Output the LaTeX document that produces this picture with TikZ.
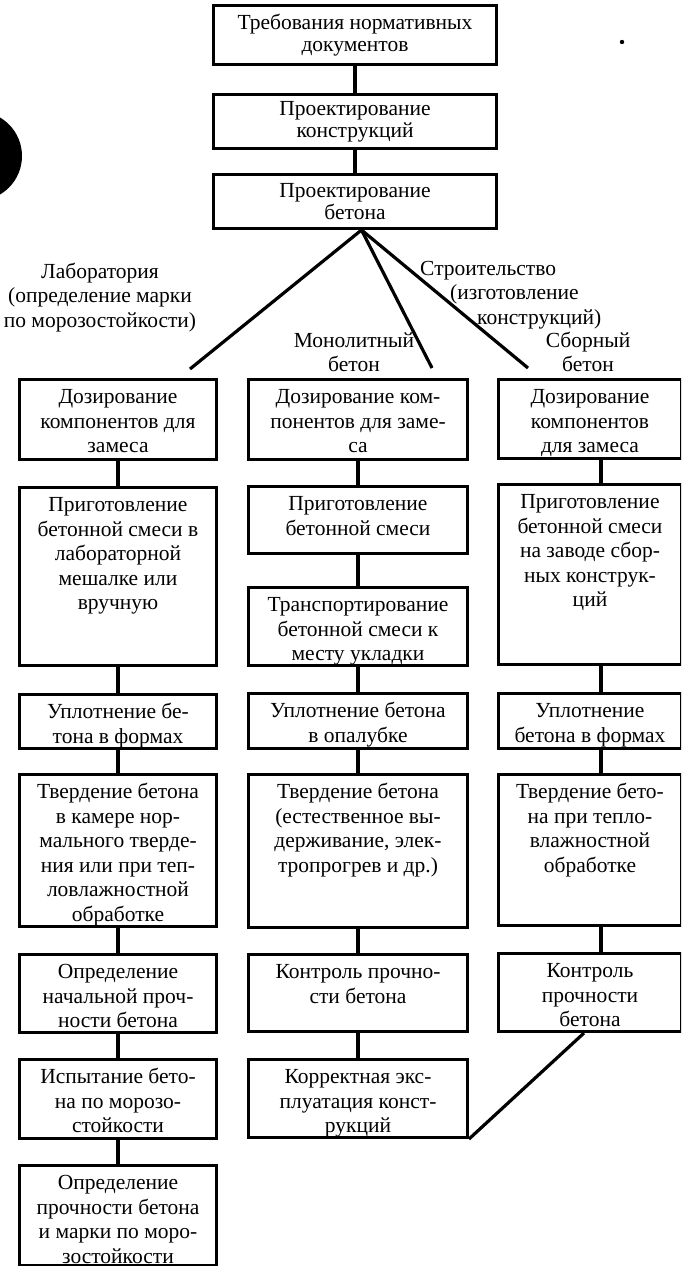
\documentclass[tikz,border=0pt]{standalone}
\usepackage{fontspec}
\setmainfont{Liberation Serif}
\newcommand\flowbox[6]{%
  \pgfmathsetmacro\fbw{#4-#2}%
  \pgfmathsetmacro\fbh{#5-#3}%
  \pgfmathsetmacro\fbwi{#4-#2-8}%
  \pgfmathsetmacro\fbhi{#5-#3-14}%
  \node[box, minimum width=\fbw pt, minimum height=\fbh pt] (#1) at (#2,#3)
    {\parbox[c][\fbhi pt][t]{\fbwi pt}{\centering\strut #6}};}
\begin{document}
\begin{tikzpicture}[x=1pt,y=-1pt,
  every node/.style={font=\fontsize{21.5}{24.5}\selectfont},
  box/.style={draw, line width=3pt, rectangle, inner sep=0pt, anchor=north west},
  topbox/.style={box, minimum width=283pt, minimum height=56pt, align=center,
     font=\fontsize{21.5}{22}\selectfont},
  conn/.style={line width=3.2pt},
  lbl/.style={inner sep=0pt, align=center, anchor=north}]
\useasboundingbox (0,0) rectangle (681,1266);
\clip (0,0) rectangle (681,1266);
% scan marks
\fill (-22.7,156) circle[radius=44.7pt];
\fill (622,42) circle[radius=2.2pt];
% top chain
\node[topbox, minimum height=59pt] (b1) at (212,4) {Требования нормативных\\документов};
\node[topbox, minimum height=54pt] (b2) at (212,93) {Проектирование\\конструкций};
\node[topbox, minimum height=54pt] (b3) at (212,173) {Проектирование\\бетона};
\draw[conn] (b1) -- (b2);
\draw[conn] (b2) -- (b3);
% branch labels
\node[lbl] (lab) at (100,261) {\strut Лаборатория\\(определение марки\\по морозостойкости)};
\node[lbl, anchor=north west, align=left] (stroi) at (420,258)
  {\strut Строительство\\\hspace*{30pt}(изготовление\\\hspace*{57pt}конструкций)};
\node[lbl] (mono) at (354,330) {\strut Монолитный\\бетон};
\node[lbl] (sbor) at (588,330) {\strut Сборный\\бетон};
\coordinate (eL) at (190,369);
\coordinate (eM) at (432,368);
\coordinate (eR) at (528,368);
\draw[conn] ([xshift=6.5pt]b3.south) -- (eL);
\draw[conn] ([xshift=6.5pt]b3.south) -- (eM);
\draw[conn] ([xshift=6.5pt]b3.south) -- (eR);
% left column
\flowbox{L1}{18}{378}{215}{458}{Дозирование\\компонентов для\\замеса}
\flowbox{L2}{18}{486}{215}{664}{Приготовление\\бетонной смеси в\\лабораторной\\мешалке или\\вручную}
\flowbox{L3}{18}{693}{215}{747}{Уплотнение бе-\\тона в формах}
\flowbox{L4}{18}{773}{215}{925}{Твердение бетона\\в камере нор-\\мального тверде-\\ния или при теп-\\ловлажностной\\обработке}
\flowbox{L5}{18}{953}{215}{1031}{Определение\\начальной проч-\\ности бетона}
\flowbox{L6}{18}{1058}{215}{1137}{Испытание бето-\\на по морозо-\\стойкости}
\flowbox{L7}{18}{1164}{215}{1264}{Определение\\прочности бетона\\и марки по моро-\\зостойкости}
\foreach \a/\b in {L1/L2,L2/L3,L3/L4,L4/L5,L5/L6,L6/L7}
  \draw[conn] (\a) -- (\b);
% middle column
\flowbox{M1}{247}{378}{466}{458}{Дозирование ком-\\понентов для заме-\\са}
\flowbox{M2}{247}{485}{466}{552}{Приготовление\\бетонной смеси}
\flowbox{M3}{247}{586}{466}{664}{Транспортирование\\бетонной смеси к\\месту укладки}
\flowbox{M4}{247}{692}{466}{747}{Уплотнение бетона\\в опалубке}
\flowbox{M5}{247}{773}{466}{926}{Твердение бетона\\(естественное вы-\\держивание, элек-\\тропрогрев и др.)}
\flowbox{M6}{247}{953}{466}{1030}{Контроль прочно-\\сти бетона}
\flowbox{M7}{247}{1058}{466}{1136}{Корректная экс-\\плуатация конст-\\рукций}
\foreach \a/\b in {M1/M2,M2/M3,M3/M4,M4/M5,M5/M6,M6/M7}
  \draw[conn] (\a) -- (\b);
% right column
\flowbox{R1}{497}{378}{680}{457}{Дозирование\\компонентов\\для замеса}
\flowbox{R2}{497}{483}{680}{663}{Приготовление\\бетонной смеси\\на заводе сбор-\\ных конструк-\\ций}
\flowbox{R3}{497}{692}{680}{747}{Уплотнение\\бетона в формах}
\flowbox{R4}{497}{773}{680}{924}{Твердение бето-\\на при тепло-\\влажностной\\обработке}
\flowbox{R5}{497}{952}{680}{1030}{Контроль\\прочности\\бетона}
\foreach \a/\b in {R1/R2,R2/R3,R3/R4,R4/R5}
  \draw[conn] ([xshift=11pt]\a.south) -- ([xshift=11pt]\b.north);
\draw[conn] (M7.south east) -- ([xshift=-6pt]R5.south);
\end{tikzpicture}
\end{document}
